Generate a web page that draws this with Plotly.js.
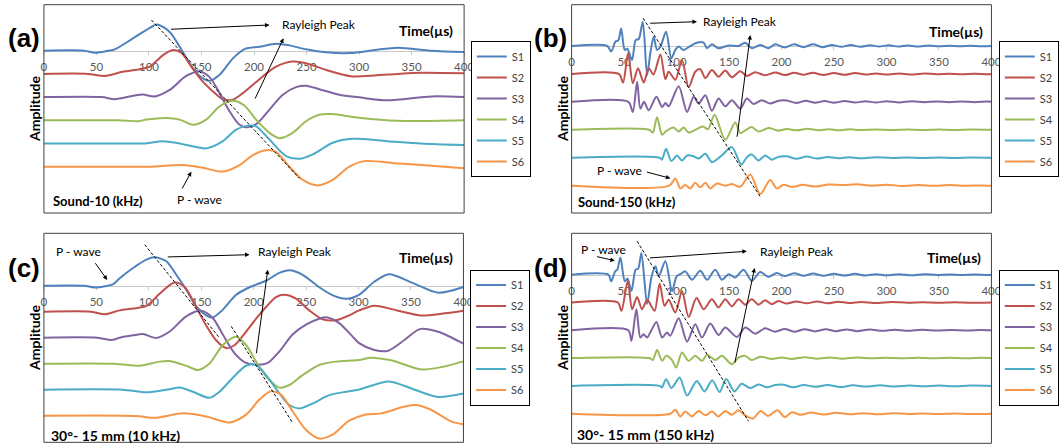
<!DOCTYPE html>
<html>
<head>
<meta charset="utf-8">
<script src="https://cdn.plot.ly/plotly-3.0.1.min.js"></script>
<style>
  html, body { margin: 0; padding: 0; background: #fff; }
  #chart { width: 1059px; height: 447px; }
</style>
</head>
<body>
<div id="chart"></div>
<script>
// Stacked waveforms, four panels: (a) Sound-10, (b) Sound-150, (c) 30°-15mm 10kHz, (d) 30°-15mm 150kHz
var seriesNames = ["S1", "S2", "S3", "S4", "S5", "S6"];
var offsets = [0, -1, -2, -3, -4, -5];
var colors = ["#4f81bd", "#c0504d", "#8064a2", "#9bbb59", "#4bacc6", "#f79646"];
var tickVals = [0, 50, 100, 150, 200, 250, 300, 350, 400];

// (a) Sound-10 (kHz): time (µs) and amplitude
var tA = [
  [0, 38, 48.5, 58, 67.5, 84.7, 100, 107.7, 119.7, 129.2, 138.7, 148.2, 157.7, 167.2, 179.9, 191, 205.2, 221, 233.7, 249.5, 268.6, 292, 315, 337, 369, 400],
  [0, 42, 58, 75, 91, 100.7, 113.4, 122.9, 130.8, 140.3, 149.8, 159.3, 170.4, 179.9, 189.4, 198.9, 208.4, 221, 236.9, 249.5, 268.6, 292, 315, 337, 359, 400],
  [0, 55, 67.5, 85, 94.4, 105.5, 119.7, 135.5, 148.2, 157.7, 167.2, 176.7, 186.2, 194.1, 203.6, 214.7, 227.4, 240, 249.5, 262.2, 281.2, 300, 327, 369, 400],
  [0, 70, 90, 97.5, 116.5, 129.2, 141.9, 154.5, 167.2, 179.9, 191, 202, 214.7, 224.2, 236.9, 249.5, 262.2, 274.9, 293.9, 311, 343, 400],
  [0, 80, 95, 113.4, 129.2, 154.5, 170.4, 183, 194.1, 202, 214.7, 230.5, 243.2, 255.9, 274.9, 293.9, 327, 359, 400],
  [0, 80, 100.7, 132.4, 151.4, 170.4, 186.2, 198.9, 211.5, 221, 233.7, 246.4, 260.6, 274.9, 290.7, 305, 337, 369, 400]
];
var vA = [
  [0, 0, -0.09, -0.03, 0.06, 0.53, 0.96, 1.13, 0.81, 0.17, -0.54, -1.09, -1.3, -1.04, -0.33, 0.07, 0.17, 0.3, 0.23, 0.06, -0.07, -0.1, 0.03, 0.13, 0, -0.06],
  [0, 0, -0.09, 0.09, 0.2, 0.31, 0.81, 1.03, 0.91, 0.31, -0.26, -0.69, -1.09, -1.11, -0.83, -0.47, -0.11, 0.31, 0.53, 0.46, 0.17, -0.1, -0.07, 0, 0.05, 0.03],
  [0, 0, -0.09, 0.06, 0.11, 0.03, 0.31, 0.91, 1.1, 0.86, 0.17, -0.61, -1.19, -1.3, -1.11, -0.54, 0.1, 0.43, 0.49, 0.34, 0.1, -0.01, -0.14, 0.03, 0],
  [0, 0, -0.04, 0.03, 0.1, 0.03, -0.19, 0.03, 0.6, 0.84, 0.63, 0.03, -0.54, -0.77, -0.54, -0.04, 0.24, 0.27, 0.14, 0.06, -0.03, 0],
  [0, 0, 0, 0.1, 0, -0.21, 0.1, 0.6, 0.77, 0.74, 0.17, -0.54, -0.66, -0.47, 0.03, 0.2, 0.1, 0, -0.07],
  [0, 0, 0, 0.07, -0.05, -0.21, 0.07, 0.5, 0.71, 0.64, 0, -0.57, -0.81, -0.57, 0, 0.24, 0.14, 0.04, -0.07]
];

// (b) Sound-150 (kHz)
var tB = [
  [0, 34, 37.7, 41.8, 44.5, 47.2, 50.6, 53, 57.6, 61, 64, 67.8, 71.9, 75, 78.2, 81.4, 84.6, 90, 95, 98.8, 102, 106.8, 113, 119.4, 125.8, 129, 133.7, 140, 149.6, 159, 165.4, 171.7, 179.7, 187.6, 194,
   203, 212, 221, 230, 239, 248, 257, 266, 275, 284, 293, 302, 311, 320, 330, 340, 350, 360, 370, 380, 390, 400],
  [0, 45, 49, 53.8, 58.3, 63.3, 68.7, 73.5, 78, 84.6, 89.3, 92.5, 98.8, 105.2, 111.5, 117.8, 122.6, 127.4, 133.7, 140, 146.4, 152.7, 160.6, 167, 174.9, 184.4, 194,
   203, 212, 221, 230, 240, 250, 260, 270, 280, 290, 300, 312, 324, 336, 348, 360, 372, 384, 396, 400],
  [0, 54, 58.3, 62.4, 65.5, 69, 73.5, 80.8, 86.2, 89.5, 92.5, 102, 110, 116.3, 121, 127.4, 133.7, 140, 146.4, 152.7, 160.6, 167, 173.3, 181.2, 189.2, 197,
   205, 214, 223, 232, 241, 250, 260, 270, 280, 290, 300, 312, 324, 336, 348, 360, 372, 384, 396, 400],
  [0, 74, 77.3, 81.4, 86.2, 90, 97.2, 102, 106.8, 111.5, 117.8, 125, 130, 136.2, 146.4, 155.9, 160.6, 165.4, 171.7, 178, 187.6, 197,
   205, 215, 225, 235, 245, 255, 265, 275, 290, 305, 320, 335, 350, 365, 380, 400],
  [0, 84, 86, 90, 95, 100.4, 105.2, 110, 116.3, 121, 127.4, 133.7, 143, 152.7, 161.6, 167, 171.7, 178, 184.4, 190.7, 197,
   205, 214, 224, 234, 244, 254, 264, 276, 290, 305, 320, 335, 350, 365, 380, 400],
  [0, 93, 98.8, 103.6, 108.3, 113, 117.8, 122.6, 127.4, 132.1, 138.5, 146.4, 152.7, 160.6, 170.2, 179.7, 189.2, 195.5, 202,
   210, 220, 232, 245, 258, 272, 286, 300, 315, 330, 345, 360, 375, 390, 400]
];
var vB = [
  [0, 0, -0.2, 0.16, 0.2, 0.63, -0.14, -0.1, -0.5, 0.21, 0.25, 0.87, -1.04, -0.26, 0.33, -0.14, -0.02, 0.51, -0.44, -0.14, -0.02, -0.14, 0, 0.12, 0.12, -0.08, 0.06, -0.08, 0.02, 0, 0.12, -0.08, 0.04, -0.08, 0.06,
   -0.05, 0.06, -0.04, 0.06, -0.04, 0.04, -0.03, 0.04, -0.03, 0.03, -0.02, 0.03, -0.02, 0.02, -0.02, 0.02, -0.01, 0.01, -0.01, 0.01, -0.01, 0],
  [0, 0, -0.31, 0.74, -0.33, 0.2, -0.31, 0.2, -0.02, 0.7, -0.19, 0.08, -0.21, 0.5, -0.48, 0.08, 0.17, -0.15, 0.14, -0.1, 0.12, -0.12, 0.1, -0.07, 0.06, -0.05, 0.05,
   -0.04, 0.04, -0.03, 0.04, -0.04, 0.03, -0.03, 0.03, -0.02, 0.02, -0.02, 0.02, -0.02, 0.02, -0.01, 0.01, -0.01, 0.01, -0.01, 0],
  [0, 0, -0.36, 0.72, -0.24, 0, -0.3, 0.18, -0.18, -0.04, -0.16, 0.56, -0.36, 0.18, -0.06, 0.24, -0.32, 0.12, -0.16, 0.06, -0.24, 0.12, -0.08, 0.06, -0.06, 0.04,
   0.05, -0.04, 0.04, -0.03, 0.03, -0.03, 0.03, -0.02, 0.02, -0.02, 0.02, -0.02, 0.02, -0.01, 0.01, -0.01, 0.01, -0.01, 0.01, 0],
  [0, 0, -0.1, 0.45, -0.18, -0.05, 0.08, -0.06, 0.08, -0.1, 0, 0.12, 0.02, 0.54, -0.36, 0.26, -0.12, -0.02, 0.1, -0.06, 0.06, -0.03,
   0.03, -0.02, 0.04, -0.02, 0.02, -0.02, 0.02, -0.01, 0.01, -0.01, 0.01, -0.01, 0.01, -0.01, 0.01, 0],
  [0, 0, -0.07, 0.32, -0.12, 0.08, -0.1, 0.08, 0.05, -0.03, 0.14, -0.16, 0.08, 0.38, -0.24, 0.02, 0.12, -0.1, 0.08, -0.07, 0.03,
   0.05, -0.04, 0.04, -0.03, 0.03, -0.02, 0.02, -0.02, 0.02, -0.01, 0.01, -0.01, 0.01, -0.01, 0.01, 0],
  [0, 0, 0.26, -0.1, 0.02, -0.1, 0.1, -0.06, 0.1, -0.1, 0.08, 0, 0.06, -0.04, 0.4, -0.3, 0.2, -0.1, 0.03,
   -0.05, 0.03, -0.03, 0.04, 0.02, 0.05, 0, 0.03, -0.01, 0.02, 0, 0.02, 0, 0.01, 0]
];

// (c) 30°- 15 mm (10 kHz)
var tC = [
  [0, 38, 49.6, 58, 65.7, 72.3, 85, 97.7, 105.6, 116.7, 126.2, 135.7, 145.2, 154.7, 161, 170.6, 183.3, 196, 211.8, 224.5, 234, 246.7, 262.5, 276, 288, 300.5, 315, 329, 352, 376, 400],
  [0, 45, 57.8, 72.3, 85, 97.7, 110.3, 124.6, 134.1, 145.2, 154.7, 164.2, 173.7, 181.7, 191.2, 202.3, 211.8, 221.3, 229.2, 240.3, 253, 265.7, 278.4, 291, 300.5, 315, 337.4, 359.9, 382.3, 400],
  [0, 51, 64.3, 72.3, 85, 94.5, 107.2, 119.9, 135.7, 150, 161, 170.6, 181.7, 192.8, 203.9, 213.4, 224.5, 237.1, 249.8, 262.5, 270.4, 281.5, 294.2, 300.5, 315, 327.7, 343.8, 358.3, 375.9, 400],
  [0, 67.5, 91.3, 110.3, 119.9, 135.7, 146.8, 157.9, 170.6, 183.3, 192.8, 202.3, 213.4, 224.5, 234, 246.7, 262.5, 278.4, 300.5, 311.7, 331, 359.9, 379.1, 400],
  [0, 75, 97.7, 119.9, 129.4, 142, 157.9, 167.4, 180.1, 192.8, 202.3, 211.8, 224.5, 234, 243.5, 256.2, 272, 287.9, 300, 329.3, 353.4, 375.9, 400],
  [0, 75, 91.3, 106, 133, 154.7, 176.9, 192.8, 205.5, 216.5, 226.1, 237.1, 249.8, 262.5, 275.2, 291, 305.2, 321.3, 343.8, 355, 369.5, 388.8, 400]
];
var vC = [
  [0, 0, -0.07, -0.02, 0.05, 0.29, 0.68, 1.0, 1.09, 0.94, 0.42, -0.15, -0.79, -1.14, -1.22, -0.92, -0.35, -0.06, 0.19, 0.49, 0.59, 0.42, -0.06, -0.38, -0.5, -0.35, 0.15, 0.44, 0.1, -0.27, -0.05],
  [0, 0, -0.1, 0.05, 0.12, 0.22, 0.69, 1.12, 0.95, 0.18, -0.53, -1.1, -1.4, -1.29, -0.85, -0.27, 0.18, 0.56, 0.65, 0.5, 0.05, -0.29, -0.33, -0.14, 0.05, 0.23, 0.04, -0.15, -0.06, 0.04],
  [0, 0, -0.09, 0, 0.09, 0.14, -0.01, 0.24, 0.82, 1.04, 0.76, 0.12, -0.59, -0.97, -1.04, -0.97, -0.53, 0.12, 0.5, 0.73, 0.78, 0.56, 0.05, -0.21, -0.47, -0.51, -0.09, 0.33, 0.23, -0.23],
  [0, 0, -0.08, 0.08, 0.1, -0.08, -0.24, 0.01, 0.72, 1.04, 0.72, 0.08, -0.56, -0.92, -0.82, -0.44, -0.05, 0.08, 0.14, 0.23, 0.13, -0.22, -0.13, 0.09],
  [0, 0, -0.1, 0.02, 0.08, -0.08, -0.31, -0.08, 0.46, 0.92, 0.95, 0.56, -0.14, -0.59, -0.72, -0.53, -0.21, -0.08, 0, 0.32, 0, -0.28, -0.15],
  [0, 0, -0.02, -0.08, 0.09, -0.03, -0.26, 0.04, 0.62, 0.94, 0.81, 0.17, -0.54, -0.88, -0.73, -0.19, 0.03, 0.09, 0.35, 0.41, 0.22, -0.23, -0.33]
];

// (d) 30°- 15 mm (150 kHz)
var tD = [
  [0, 35, 37.7, 41.5, 43.5, 46.5, 50.6, 53.2, 57, 61, 63.5, 66.5, 71.9, 76, 79.8, 83, 89.3, 95.7, 100, 103.6, 108.3, 114.7, 122.6, 129, 136.9, 143.2, 149.6, 155.9, 163.8, 171.7, 179.7, 187.6, 195.5,
   203, 212, 221, 230, 240, 250, 260, 270, 280, 290, 300, 312, 324, 336, 348, 360, 372, 384, 396, 400],
  [0, 44, 47.5, 53.5, 57.6, 62.4, 67.1, 72, 75.5, 79.2, 83.9, 88.5, 92.5, 98.8, 105.2, 111.5, 119, 125.8, 133.7, 140, 146.4, 152.7, 159, 165.4, 171.7, 178, 184.4, 190.7, 197,
   205, 214, 224, 234, 244, 254, 264, 276, 290, 305, 320, 335, 350, 365, 380, 400],
  [0, 54, 57, 61.7, 65.5, 68.5, 72, 76, 80.8, 86.2, 90.9, 94, 102, 110, 117.8, 124.2, 132.1, 140, 146.4, 157.5, 165.4, 174.9, 184.4, 193.9,
   203, 212, 222, 232, 242, 252, 262, 272, 284, 296, 308, 320, 334, 348, 362, 376, 390, 400],
  [0, 74, 77.3, 81.4, 86.2, 90, 95.7, 99.5, 105.2, 111.5, 117.8, 124.2, 129, 136.9, 143.2, 152.7, 159, 165.4, 171.7, 179.7, 190,
   200, 210, 222, 234, 246, 258, 272, 286, 300, 315, 330, 345, 360, 375, 390, 400],
  [0, 84, 86, 90, 95, 98, 103, 110, 119.3, 126.6, 134, 141, 147.3, 155.1, 162, 170, 178, 186, 194,
   202, 211, 221, 232, 244, 256, 268, 280, 294, 308, 322, 336, 350, 365, 380, 400],
  [0, 94, 98.8, 103.6, 108.3, 114.7, 121, 127.4, 133.7, 140, 146.4, 152.7, 159, 165.4, 172.8, 180, 187, 196.2, 203, 210,
   218, 228, 240, 252, 265, 278, 292, 306, 320, 335, 350, 365, 380, 400]
];
var vD = [
  [0, 0, -0.24, 0.12, 0.18, 0.62, -0.24, -0.14, -0.58, 0.18, 0.22, 0.78, -1.05, -0.1, 0.3, -0.06, 0.48, -0.6, -0.06, 0.02, 0.12, -0.18, 0.14, -0.18, 0.18, -0.18, 0.02, -0.1, 0.18, -0.22, 0.1, -0.08, 0.06,
   -0.05, 0.05, -0.04, 0.04, -0.04, 0.03, -0.03, 0.03, -0.03, 0.02, -0.02, 0.02, -0.02, 0.02, -0.01, 0.01, -0.01, 0.01, -0.01, 0],
  [0, 0, -0.3, 0.78, -0.24, 0.2, -0.24, 0.1, -0.1, -0.3, 0.68, -0.12, 0.1, -0.36, 0.4, -0.52, 0.16, -0.24, 0.12, -0.18, 0.12, -0.14, 0.12, -0.08, 0.12, -0.08, 0.08, -0.06, 0.05,
   -0.04, 0.04, -0.03, 0.04, -0.03, 0.03, -0.02, 0.02, -0.02, 0.02, -0.01, 0.01, -0.01, 0.01, -0.01, 0],
  [0, 0, -0.38, 0.76, -0.26, -0.14, -0.26, 0, 0.3, -0.26, -0.08, -0.2, 0.43, -0.41, 0.22, -0.26, 0.24, -0.17, 0.1, -0.24, 0.1, -0.12, 0.07, -0.05,
   0.05, -0.05, 0.04, -0.04, 0.04, -0.03, 0.03, -0.03, 0.03, -0.02, 0.02, -0.02, 0.02, -0.01, 0.01, -0.01, 0.01, 0],
  [0, 0, -0.07, 0.29, -0.1, 0.08, -0.07, -0.34, 0.2, -0.1, 0.08, -0.1, 0.12, -0.07, 0.08, -0.22, 0.02, 0.08, -0.07, 0.05, -0.03,
   0.02, -0.03, 0.03, -0.02, 0.02, -0.02, 0.02, -0.01, 0.01, -0.01, 0.01, -0.01, 0.01, -0.01, 0.01, 0],
  [0, 0, -0.06, 0.24, -0.08, 0.05, 0.3, -0.35, 0.18, -0.2, 0.2, -0.22, 0.25, -0.2, 0.08, -0.08, 0.05, -0.05, 0.03,
   0.04, -0.05, 0.03, -0.03, 0.03, -0.04, 0.02, -0.02, 0.02, -0.02, 0.01, -0.01, 0.01, -0.01, 0.01, 0],
  [0, 0, 0.14, -0.1, 0.08, -0.1, 0.1, -0.06, 0.08, -0.1, 0.1, -0.04, 0.12, -0.06, -0.18, 0.1, -0.08, 0.12, -0.12, 0.05,
   -0.04, 0.04, -0.03, 0.03, -0.02, 0.02, -0.02, 0.02, -0.01, 0.01, -0.01, 0.01, -0.01, 0]
];

var W = 1059, H = 447;
function X(px) { return px / W; }
function Y(py) { return 1 - py / H; }
var FONT = "Lato, 'Open Sans', sans-serif";

function buildPanel(t, v, n, legendId) {
  var sfx = n === 1 ? "" : String(n);
  return seriesNames.map(function(name, i) {
    return {
      type: "scatter", mode: "lines", name: name,
      x: t[i],
      y: v[i].map(function(a) { return a + offsets[i]; }),
      xaxis: "x" + sfx, yaxis: "y" + sfx,
      legend: legendId, legendgroup: legendId + name,
      line: { color: colors[i], width: 2, shape: "spline", smoothing: 0.8 },
      hoverinfo: "skip"
    };
  });
}

var data = [].concat(
  buildPanel(tA, vA, 1, "legend"),
  buildPanel(tB, vB, 2, "legend2"),
  buildPanel(tC, vC, 3, "legend3"),
  buildPanel(tD, vD, 4, "legend4")
);

function xAxis(left, right, zeroPy) {
  return {
    domain: [X(left), X(right)], range: [0, 400], anchor: "free", position: Y(zeroPy),
    showgrid: false, zeroline: false, showline: true, linecolor: "#c8c8c8", linewidth: 1,
    ticks: "outside", ticklen: 3, tickcolor: "#c8c8c8", tickvals: tickVals,
    ticklabelstandoff: 2,
    tickfont: { family: FONT, size: 11.5, color: "#595959" }, layer: "below traces", fixedrange: true
  };
}
function yAxis(top, bottom, range, anchor) {
  return { domain: [Y(bottom), Y(top)], range: range, visible: false, fixedrange: true, anchor: anchor };
}
function legendAt(left, top) {
  return {
    x: X(left), y: Y(top), xanchor: "left", yanchor: "top",
    bordercolor: "#000", borderwidth: 1, bgcolor: "#fff",
    font: { family: FONT, size: 11, color: "#404040" },
    tracegroupgap: 2, itemwidth: 30
  };
}

// text labels, pixel positions
function label(text, px, py, size, anchor, angle) {
  return {
    xref: "paper", yref: "paper", x: X(px), y: Y(py), text: text, showarrow: false,
    xanchor: anchor || "center", yanchor: "middle", textangle: angle || 0,
    font: { family: FONT, size: size, color: "#000" }
  };
}
function panelTag(text, px, py) {
  return {
    xref: "paper", yref: "paper", x: X(px), y: Y(py), text: "<b>" + text + "</b>", showarrow: false,
    xanchor: "center", yanchor: "middle",
    font: { family: "'Liberation Sans', Arial, sans-serif", size: 26, color: "#000" }
  };
}
function arrow(tx, ty, hx, hy) {
  return {
    xref: "paper", yref: "paper", x: X(hx), y: Y(hy), ax: tx - hx, ay: ty - hy,
    text: "", showarrow: true, arrowhead: 2, arrowsize: 0.9, arrowwidth: 1, arrowcolor: "#000", standoff: 0
  };
}
function dashed(x0, y0, x1, y1) {
  return {
    type: "line", xref: "paper", yref: "paper", x0: X(x0), y0: Y(y0), x1: X(x1), y1: Y(y1),
    line: { color: "#000", width: 1, dash: "3px,2px" }
  };
}
function frame(l, t, r, b) {
  return {
    type: "rect", xref: "paper", yref: "paper", x0: X(l), y0: Y(b), x1: X(r), y1: Y(t),
    line: { color: "#404040", width: 1 }, fillcolor: "rgba(0,0,0,0)", layer: "above"
  };
}

var annotations = [
  // (a)
  panelTag("(a)", 24, 38),
  label("<b>Amplitude</b>", 34, 109, 14, "center", -90),
  label("<b>Time(µs)</b>", 427, 30, 14),
  label("Rayleigh Peak", 281, 24, 12, "left"),
  label("P - wave", 200, 199, 12),
  label("<b>Sound-10 (kHz)</b>", 51, 201, 13, "left"),
  arrow(170, 29.3, 270, 25),
  arrow(255, 100, 284, 38.3),
  arrow(181.7, 190, 191.7, 171.7),
  // (b)
  panelTag("(b)", 552, 38),
  label("<b>Amplitude</b>", 563, 109, 14, "center", -90),
  label("<b>Time(µs)</b>", 958, 31, 14),
  label("Rayleigh Peak", 702, 22, 12, "left"),
  label("P - wave", 596, 170, 12, "left"),
  label("<b>Sound-150 (kHz)</b>", 577, 202, 13, "left"),
  arrow(650, 23.3, 698.3, 21.7),
  arrow(738.3, 138.3, 751.7, 35),
  arrow(646.7, 171.7, 671.7, 178.3),
  // (c)
  panelTag("(c)", 24, 268),
  label("<b>Amplitude</b>", 34, 338, 14, "center", -90),
  label("<b>Time(µs)</b>", 427, 257, 14),
  label("Rayleigh Peak", 256, 252, 12, "left"),
  label("P - wave", 54, 252, 12, "left"),
  label("<b>30°- 15 mm (10 kHz)</b>", 49, 435, 14, "left"),
  arrow(166.7, 257, 250, 254.7),
  arrow(256.7, 354.7, 268.3, 269.7),
  arrow(94.5, 261.7, 107.4, 280),
  // (d)
  panelTag("(d)", 552, 268),
  label("<b>Amplitude</b>", 563, 338, 14, "center", -90),
  label("<b>Time(µs)</b>", 956, 257, 14),
  label("Rayleigh Peak", 759, 251, 12, "left"),
  label("P - wave", 580, 249, 12, "left"),
  label("<b>30°- 15 mm (150 kHz)</b>", 576, 434, 14, "left"),
  arrow(650, 258, 748.3, 251.3),
  arrow(736, 364, 756, 268),
  arrow(596.7, 256.3, 616, 260.7)
];

var shapes = [
  frame(44, 4.7, 465, 213),
  frame(572.7, 4.7, 993.3, 213),
  frame(44, 233.3, 464.3, 442.3),
  frame(572.7, 233.3, 993.3, 443.3),
  dashed(151.7, 20, 300, 178.3),
  dashed(644.3, 18.3, 761.7, 196.7),
  dashed(145, 244.7, 220, 338),
  dashed(231.7, 326.3, 293.3, 423),
  dashed(638.3, 241.3, 750, 421.3)
];

var layout = {
  width: W, height: H, autosize: false,
  margin: { l: 0, r: 0, t: 0, b: 0, pad: 0 },
  paper_bgcolor: "#fff", plot_bgcolor: "rgba(0,0,0,0)",
  showlegend: true,
  xaxis: xAxis(44, 465, 50.7),
  yaxis: yAxis(4.7, 213, [-6.996, 1.983], "x"),
  xaxis2: xAxis(572.7, 993.3, 46),
  yaxis2: yAxis(4.7, 213, [-5.979, 1.479], "x2"),
  xaxis3: xAxis(44, 464.3, 285.7),
  yaxis3: yAxis(233.3, 442.3, [-6.023, 2.015], "x3"),
  xaxis4: xAxis(572.7, 993.3, 274.7),
  yaxis4: yAxis(233.3, 443.3, [-6.065, 1.489], "x4"),
  legend: legendAt(471.7, 41),
  legend2: legendAt(1000.7, 41),
  legend3: legendAt(471, 269.5),
  legend4: legendAt(1000.7, 269.5),
  annotations: annotations,
  shapes: shapes
};

Plotly.newPlot("chart", data, layout, { displayModeBar: false, staticPlot: true });
</script>
</body>
</html>
